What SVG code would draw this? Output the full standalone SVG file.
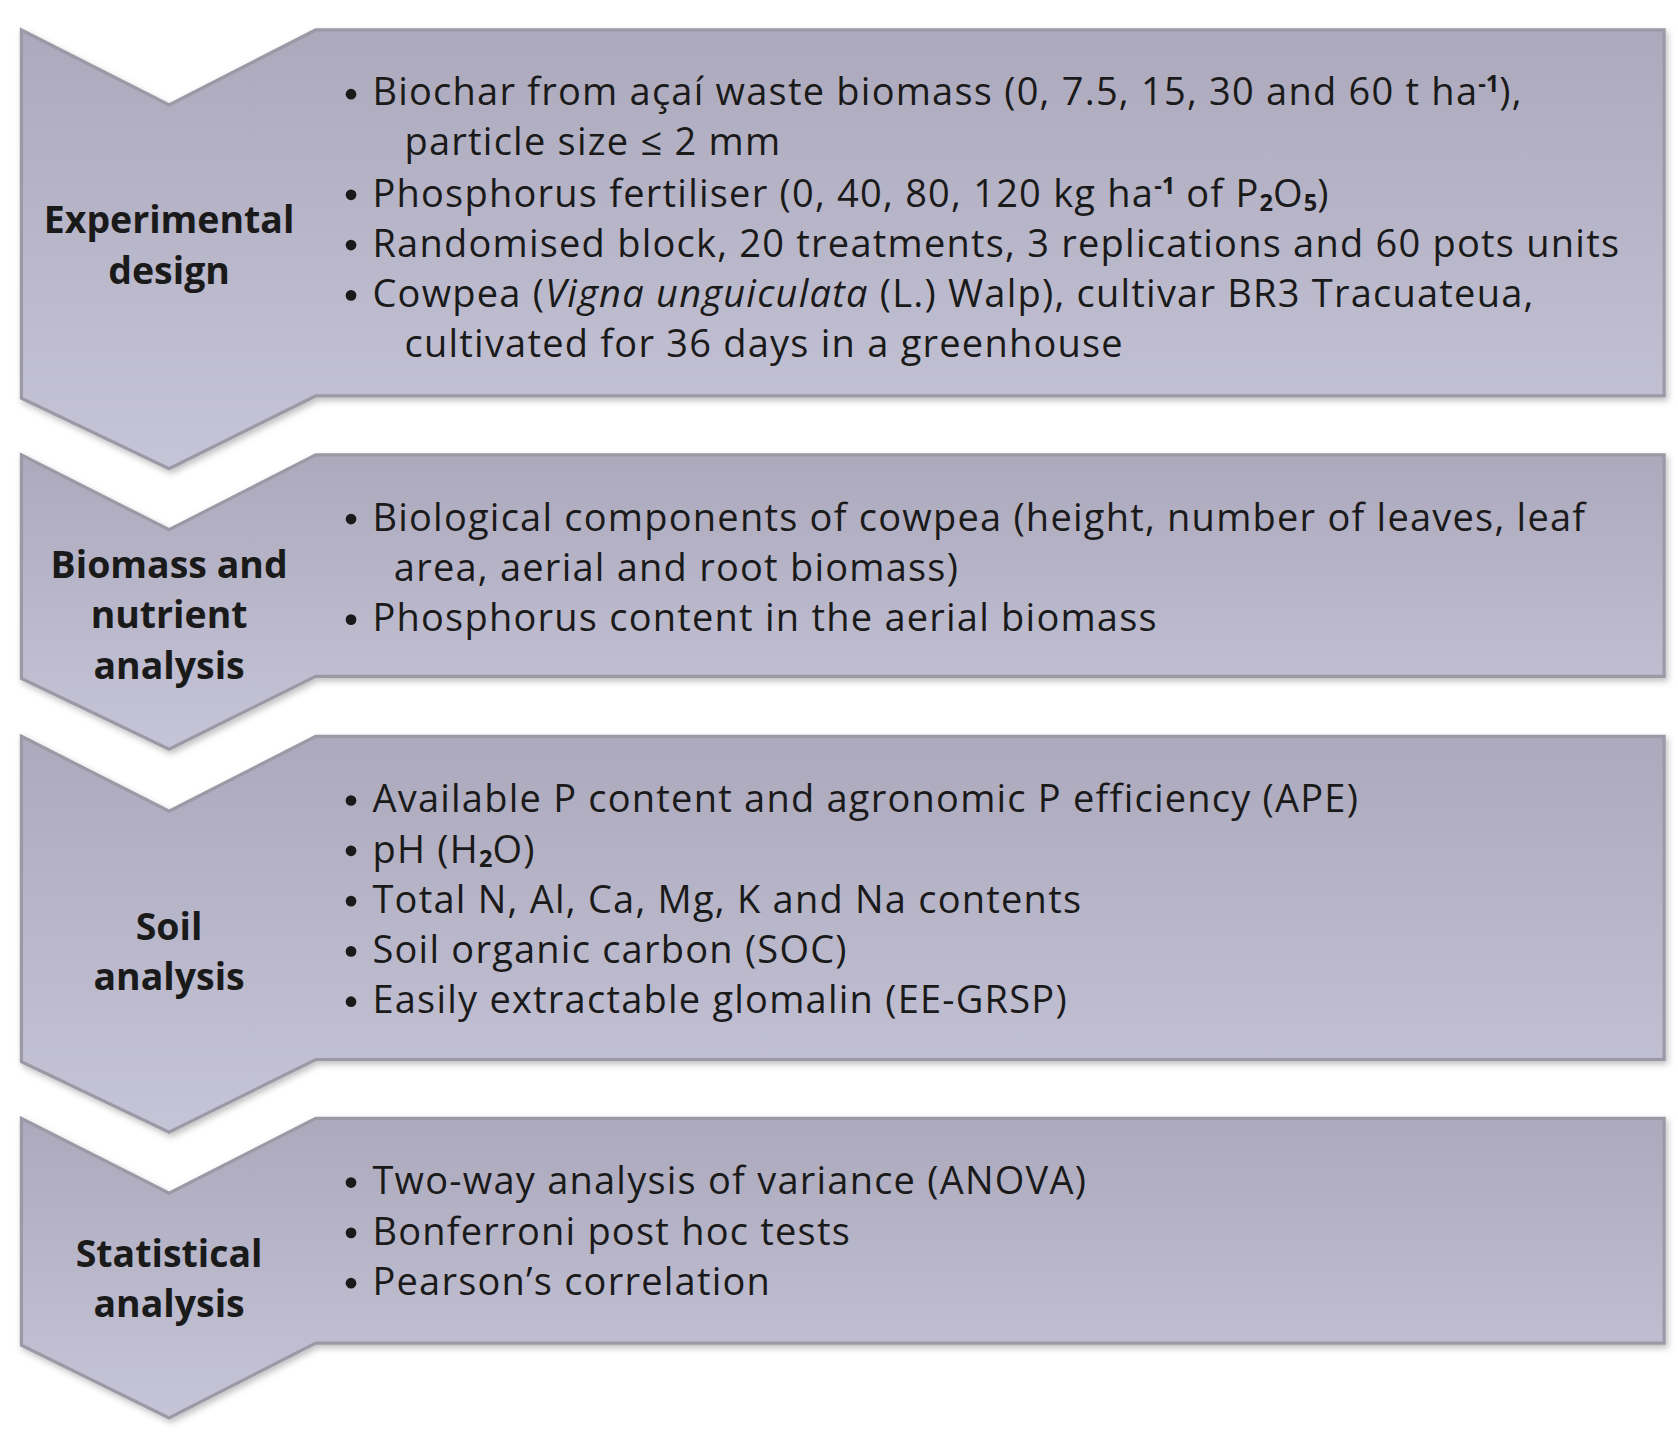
<svg xmlns="http://www.w3.org/2000/svg" width="1678" height="1435" viewBox="0 0 1678 1435">
<defs>
<linearGradient id="g" x1="0" y1="0" x2="0" y2="1"><stop offset="0" stop-color="#aca9bc"/><stop offset="1" stop-color="#c6c4d7"/></linearGradient>
<filter id="sh" x="-5%" y="-5%" width="110%" height="115%"><feDropShadow dx="2" dy="3" stdDeviation="3" flood-color="#000" flood-opacity="0.25"/></filter>
</defs>
<style>
.box{fill:url(#g);stroke:#9b99a6;stroke-width:3;filter:url(#sh)}
.t{font-family:"Open Sans","Noto Sans",sans-serif;font-size:35.5px;letter-spacing:1.15px;fill:#1a1a1a}
.l{font-family:"Open Sans","Noto Sans",sans-serif;font-size:35px;font-weight:bold;fill:#1a1a1a;text-anchor:middle}
.s{font-size:22px;letter-spacing:0}
.b{fill:#1a1a1a}
</style>
<g transform="scale(1.0702)">
<g id="connectors"/>
<g id="n1">
<path class="box" d="M20,28 L158,98 L295,28 L1555,28 L1555,370 L295,370 L158,438 L20,372 Z"/>
<text class="l" x="158" y="218">Experimental</text>
<text class="l" x="158" y="265">design</text>
<circle class="b" cx="328" cy="88" r="5"/><circle class="b" cx="328" cy="182" r="5"/><circle class="b" cx="328" cy="229" r="5"/><circle class="b" cx="328" cy="276" r="5"/>
<text class="t" x="348" y="98">Biochar from açaí waste biomass (0, 7.5, 15, 30 and 60 t ha<tspan class="s" dy="-12" font-weight="bold">-1</tspan><tspan dy="12">),</tspan></text>
<text class="t" x="378" y="145">particle size ≤ 2 mm</text>
<text class="t" x="348" y="193">Phosphorus fertiliser (0, 40, 80, 120 kg ha<tspan class="s" dy="-12" font-weight="bold">-1</tspan><tspan dy="12"> of P</tspan><tspan class="s" dy="4" font-weight="bold">2</tspan><tspan dy="-4">O</tspan><tspan class="s" dy="4" font-weight="bold">5</tspan><tspan dy="-4">)</tspan></text>
<text class="t" x="348" y="240">Randomised block, 20 treatments, 3 replications and 60 pots units</text>
<text class="t" x="348" y="287">Cowpea (<tspan font-style="italic">Vigna unguiculata</tspan> (L.) Walp), cultivar BR3 Tracuateua,</text>
<text class="t" x="378" y="334">cultivated for 36 days in a greenhouse</text>
</g>
<g id="n2">
<path class="box" d="M20,425 L158,495 L295,425 L1555,425 L1555,632 L295,632 L158,700 L20,634 Z"/>
<text class="l" x="158" y="540">Biomass and</text>
<text class="l" x="158" y="587">nutrient</text>
<text class="l" x="158" y="634">analysis</text>
<circle class="b" cx="328" cy="485" r="5"/><circle class="b" cx="328" cy="579" r="5"/>
<text class="t" x="348" y="496">Biological components of cowpea (height, number of leaves, leaf</text>
<text class="t" x="368" y="543">area, aerial and root biomass)</text>
<text class="t" x="348" y="590">Phosphorus content in the aerial biomass</text>
</g>
<g id="n3">
<path class="box" d="M20,688 L158,758 L295,688 L1555,688 L1555,990 L295,990 L158,1058 L20,992 Z"/>
<text class="l" x="158" y="878">Soil</text>
<text class="l" x="158" y="925">analysis</text>
<circle class="b" cx="328" cy="748" r="5"/><circle class="b" cx="328" cy="795" r="5"/><circle class="b" cx="328" cy="842" r="5"/><circle class="b" cx="328" cy="889" r="5"/><circle class="b" cx="328" cy="936" r="5"/>
<text class="t" x="348" y="759">Available P content and agronomic P efficiency (APE)</text>
<text class="t" x="348" y="806">pH (H<tspan class="s" dy="4" font-weight="bold">2</tspan><tspan dy="-4">O)</tspan></text>
<text class="t" x="348" y="853">Total N, Al, Ca, Mg, K and Na contents</text>
<text class="t" x="348" y="900">Soil organic carbon (SOC)</text>
<text class="t" x="348" y="947">Easily extractable glomalin (EE-GRSP)</text>
</g>
<g id="n4">
<path class="box" d="M20,1045 L158,1115 L295,1045 L1555,1045 L1555,1255 L295,1255 L158,1325 L20,1257 Z"/>
<text class="l" x="158" y="1184">Statistical</text>
<text class="l" x="158" y="1231">analysis</text>
<circle class="b" cx="328" cy="1105" r="5"/><circle class="b" cx="328" cy="1152" r="5"/><circle class="b" cx="328" cy="1199" r="5"/>
<text class="t" x="348" y="1116">Two-way analysis of variance (ANOVA)</text>
<text class="t" x="348" y="1163">Bonferroni post hoc tests</text>
<text class="t" x="348" y="1210">Pearson’s correlation</text>
</g>
</g>
</svg>
